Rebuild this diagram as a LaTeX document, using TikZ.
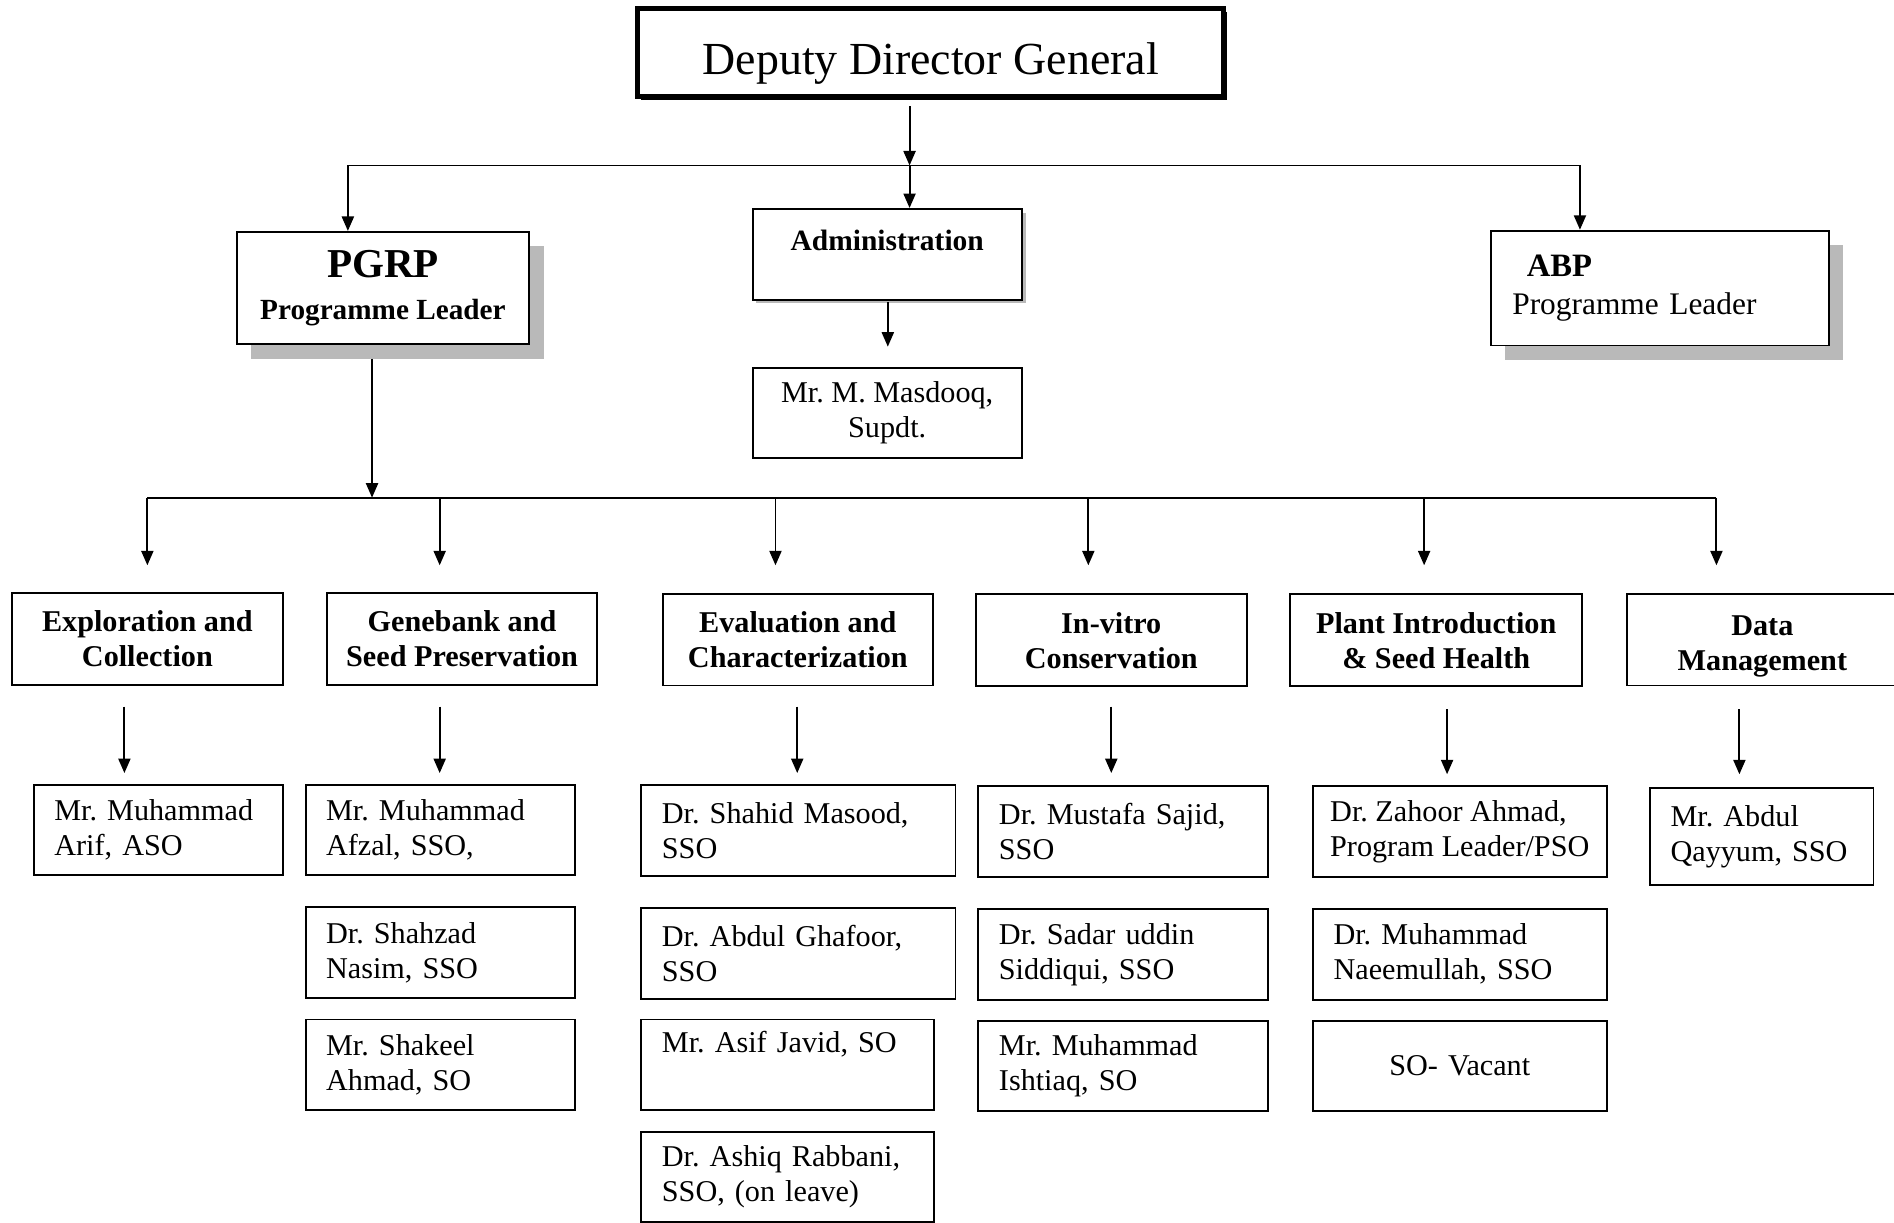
\documentclass[tikz,border=0pt]{standalone}
\usepackage{fontspec}
\setmainfont{Liberation Serif}
\usetikzlibrary{arrows.meta,shadows}
\frenchspacing

\begin{document}
\begin{tikzpicture}[
    >={Triangle[length=6pt,width=5pt]},
    x=0.5pt, y=-0.5pt,
    box/.style={draw,line width=0.8pt,fill=white,inner sep=0pt,
                font=\fontsize{12.5}{14.5}\selectfont},
    boss/.style={box,line width=2pt,minimum width=242.5pt,minimum height=36.5pt,
                 font=\fontsize{19}{22}\selectfont,
                 drop shadow={shadow xshift=1.5pt,shadow yshift=-1.5pt,fill=black,opacity=1}},
    prog/.style={box,drop shadow={shadow xshift=6pt,shadow yshift=-6pt,fill=gray!55,opacity=1}},
    unit/.style={box,font=\fontsize{12.5}{14.5}\selectfont\bfseries,align=center,
                 minimum width=112pt,minimum height=38pt},
    person/.style={box,align=left,text width=#1,inner xsep=8.5pt,minimum height=37.5pt},
    conn/.style={->,line width=0.8pt},
    bus/.style={line width=0.8pt},
  ]
  \useasboundingbox (0,0) rectangle (1568,1012);

  % --- top of the chart ---
  \node[boss] (ddg) at (770.5,43.5) {\raisebox{-9.25pt}[7pt][7pt]{Deputy Director General}};

  \node[prog,minimum width=121pt,minimum height=46.5pt,align=center,
        font=\fontsize{12.1}{17.5}\selectfont\bfseries] (pgrp) at (317,238.5)
    {{\fontsize{17}{17.5}\selectfont PGRP}\\Programme Leader};
  \node[box,minimum width=111.5pt,minimum height=37.5pt,align=center,
        font=\fontsize{12.2}{14.5}\selectfont\bfseries,
        drop shadow={shadow xshift=1.5pt,shadow yshift=-1.5pt,fill=gray!55,opacity=1}]
    (admin) at (734.5,210.5) {Administration\\[-7pt]\strut};
  \node[box,minimum width=111.5pt,minimum height=37.5pt,align=center] (masdooq)
    at (734.5,342) {Mr. M. Masdooq,\\Supdt.};
  \node[prog,align=left,text width=122pt,inner xsep=9pt,minimum height=47.5pt,
        font=\fontsize{13}{16}\selectfont] (abp) at (1374,238.5)
    {\hspace{6pt}{\fontsize{13.5}{16}\selectfont\bfseries ABP}\\Programme Leader};

  % --- top connectors ---
  \coordinate (ddg-out) at (753,88);
  \coordinate (bus-a) at (288,137);
  \coordinate (bus-c) at (1308,137);
  \draw[bus] (bus-a) -- (bus-c);
  \draw[conn] (ddg-out) -- (ddg-out |- bus-a);
  \draw[conn] (bus-a) -- (bus-a |- pgrp.north);
  \draw[conn] (ddg-out |- bus-a) -- (ddg-out |- admin.north);
  \draw[conn] (bus-c) -- (bus-c |- abp.north);

  \coordinate (adm-out) at (735,250);
  \coordinate (adm-in) at (735,287);
  \draw[conn] (adm-out) -- (adm-in);

  % --- PGRP units ---
  \node[unit] (expl) at (122,529) {Exploration and\\Collection};
  \node[unit] (gene) at (382.5,529) {Genebank and\\Seed Preservation};
  \node[unit] (eval) at (660.5,529.5) {Evaluation and\\Characterization};
  \node[unit] (invitro) at (920,530) {In-vitro\\Conservation};
  \node[unit,minimum width=121pt] (intro) at (1189,530) {Plant Introduction\\\& Seed Health};
  \node[unit] (data) at (1459,529.5) {\rule{0pt}{13.5pt}Data\\Management};

  \coordinate (pg-out) at (308,297);
  \coordinate (b1) at (122,412);
  \coordinate (b2) at (364,412);
  \coordinate (b3) at (642,412);
  \coordinate (b4) at (901,412);
  \coordinate (b5) at (1179,412);
  \coordinate (b6) at (1421,412);
  \draw[bus] (b1) -- (b6);
  \draw[conn] (pg-out) -- (pg-out |- b1);
  \draw[conn] (b1) -- +(0,56);
  \draw[conn] (b2) -- +(0,56);
  \draw[conn] (b3) -- +(0,56);
  \draw[conn] (b4) -- +(0,56);
  \draw[conn] (b5) -- +(0,56);
  \draw[conn] (b6) -- +(0,56);

  % --- staff ---
  \node[person=86pt] (arif) at (131,687) {Mr. Muhammad\\Arif, ASO};

  \node[person=94.5pt] (afzal) at (364.5,687) {Mr. Muhammad\\Afzal, SSO,};
  \node[person=94.5pt] (nasim) at (364.5,788.5) {Dr. Shahzad\\Nasim, SSO};
  \node[person=94.5pt] (shakeel) at (364.5,881.5) {Mr. Shakeel\\Ahmad, SO};

  \node[person=113pt] (masood) at (661,687.5) {Dr. Shahid Masood,\\SSO};
  \node[person=113pt] (ghafoor) at (661,789.5) {Dr. Abdul Ghafoor,\\SSO};
  \node[person=104pt] (javid) at (652,881.5) {Mr. Asif Javid, SO\\\strut};
  \node[person=104pt] (rabbani) at (652,974.5) {Dr. Ashiq Rabbani,\\SSO, (on leave)};

  \node[person=103pt] (sajid) at (930,688.5) {Dr. Mustafa Sajid,\\SSO};
  \node[person=103pt] (siddiqui) at (930,790) {Dr. Sadar uddin\\Siddiqui, SSO};
  \node[person=103pt] (ishtiaq) at (930,882.5) {Mr. Muhammad\\Ishtiaq, SO};

  \node[box,align=left,minimum width=121.5pt,minimum height=37.5pt] (zahoor)
    at (1208.5,688.5) {Dr. Zahoor Ahmad,\\Program Leader/PSO};
  \node[person=104.5pt] (naeem) at (1208.5,790) {Dr. Muhammad\\Naeemullah, SSO};
  \node[person=104.5pt,align=center] (vacant) at (1208.5,882.5) {SO- Vacant};

  \node[person=75.5pt,minimum height=40.5pt] (qayyum) at (1458.5,692.5) {Mr. Abdul\\Qayyum, SSO};

  % --- unit to staff connectors ---
  \coordinate (s1) at (103,585);
  \coordinate (s2) at (364,585);
  \coordinate (s3) at (660,585);
  \coordinate (s4) at (920,585);
  \coordinate (s5) at (1198,587);
  \coordinate (s6) at (1440,587);
  \draw[conn] (s1) -- +(0,55);
  \draw[conn] (s2) -- +(0,55);
  \draw[conn] (s3) -- +(0,55);
  \draw[conn] (s4) -- +(0,55);
  \draw[conn] (s5) -- +(0,54);
  \draw[conn] (s6) -- +(0,54);

\end{tikzpicture}
\end{document}
